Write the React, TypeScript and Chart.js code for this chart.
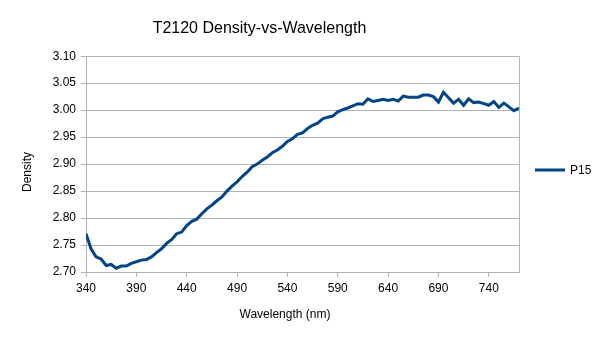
import React, { useEffect, useRef } from "react";
import { Chart, registerables } from "chart.js";

Chart.register(...registerables);

const chartTitle = "T2120 Density-vs-Wavelength";
const seriesName = "P15";
const xAxisTitle = "Wavelength (nm)";
const yAxisTitle = "Density";

const wavelengths: number[] = [
  340, 345, 350, 355, 360, 365, 370, 375, 380, 385, 390, 395, 400, 405, 410, 415,
  420, 425, 430, 435, 440, 445, 450, 455, 460, 465, 470, 475, 480, 485, 490, 495,
  500, 505, 510, 515, 520, 525, 530, 535, 540, 545, 550, 555, 560, 565, 570, 575,
  580, 585, 590, 595, 600, 605, 610, 615, 620, 625, 630, 635, 640, 645, 650, 655,
  660, 665, 670, 675, 680, 685, 690, 695, 700, 705, 710, 715, 720, 725, 730, 735,
  740, 745, 750, 755, 760, 765, 770,
];

const density: number[] = [
  2.771, 2.743, 2.728, 2.724, 2.712, 2.714, 2.707, 2.711, 2.711, 2.716, 2.719, 2.722, 2.723, 2.728, 2.736, 2.743,
  2.753, 2.760, 2.771, 2.774, 2.786, 2.794, 2.798, 2.808, 2.817, 2.824, 2.832, 2.839, 2.850, 2.859, 2.867, 2.877,
  2.885, 2.895, 2.900, 2.907, 2.913, 2.921, 2.926, 2.933, 2.942, 2.947, 2.955, 2.958, 2.966, 2.972, 2.976, 2.984,
  2.987, 2.989, 2.997, 3.001, 3.004, 3.008, 3.012, 3.011, 3.021, 3.016, 3.018, 3.020, 3.018, 3.020, 3.017, 3.026,
  3.024, 3.024, 3.024, 3.028, 3.028, 3.025, 3.015, 3.033, 3.023, 3.013, 3.020, 3.009, 3.021, 3.014, 3.015, 3.012,
  3.009, 3.016, 3.005, 3.013, 3.006, 2.999, 3.004,
];

const xTicks: number[] = [340, 390, 440, 490, 540, 590, 640, 690, 740];
const xMin = 340;
const xMax = 770;
const yMin = 2.7;
const yMax = 3.1;
const yStep = 0.05;

const LINE_COLOR = "#004586";
const GRID_COLOR = "#b3b3b3";
const FONT = "'Liberation Sans', Arial, sans-serif";

export default function App() {
  const ref = useRef<HTMLCanvasElement | null>(null);

  useEffect(() => {
    document.body.style.margin = "0";
    const canvas = ref.current;
    if (!canvas) return;

    const frameAndLegend = {
      id: "frameAndLegend",
      afterDraw(chart: any) {
        const { ctx, chartArea } = chart;
        ctx.save();
        ctx.strokeStyle = GRID_COLOR;
        ctx.lineWidth = 1;
        ctx.beginPath();
        ctx.moveTo(Math.round(chartArea.right) + 0.5, chartArea.top);
        ctx.lineTo(Math.round(chartArea.right) + 0.5, chartArea.bottom);
        ctx.stroke();
        // legend
        const ly = 170;
        ctx.strokeStyle = LINE_COLOR;
        ctx.lineWidth = 3;
        ctx.beginPath();
        ctx.moveTo(535, ly);
        ctx.lineTo(565, ly);
        ctx.stroke();
        ctx.fillStyle = "#000";
        ctx.font = `12px ${FONT}`;
        ctx.textBaseline = "middle";
        ctx.textAlign = "left";
        ctx.fillText(seriesName, 570, ly + 1);
        // axis titles
        ctx.textAlign = "center";
        ctx.fillText(xAxisTitle, 285, 315);
        ctx.translate(28, 172);
        ctx.rotate(-Math.PI / 2);
        ctx.fillText(yAxisTitle, 0, 0);
        ctx.restore();
      },
    };

    const chart = new Chart(canvas, {
      type: "line",
      data: {
        datasets: [
          {
            label: seriesName,
            data: wavelengths.map((x, i) => ({ x, y: density[i] })),
            borderColor: LINE_COLOR,
            backgroundColor: LINE_COLOR,
            borderWidth: 3,
            pointRadius: 0,
            tension: 0,
            fill: false,
          },
        ],
      },
      options: {
        responsive: false,
        animation: false,
        layout: { padding: { left: 0, right: 87, top: 0, bottom: 0 } },
        plugins: {
          legend: { display: false },
          tooltip: { enabled: false },
          title: {
            display: true,
            text: chartTitle,
            color: "#000",
            font: { family: FONT, size: 16, weight: "normal" },
            padding: { top: 19, bottom: 18 },
          },
        },
        scales: {
          x: {
            type: "linear",
            min: xMin,
            max: xMax,
            afterBuildTicks: (scale: any) => {
              scale.ticks = xTicks.map((v) => ({ value: v }));
            },
            afterFit: (scale: any) => {
              scale.height = 69;
            },
            grid: {
              drawOnChartArea: false,
              drawTicks: true,
              tickLength: 5,
              color: GRID_COLOR,
            },
            border: { color: GRID_COLOR },
            ticks: {
              color: "#000",
              font: { family: FONT, size: 12 },
              padding: 4,
              maxRotation: 0,
              autoSkip: false,
            },
          },
          y: {
            type: "linear",
            min: yMin,
            max: yMax,
            afterFit: (scale: any) => {
              scale.width = 86;
            },
            grid: {
              drawOnChartArea: true,
              drawTicks: true,
              tickLength: 5,
              color: GRID_COLOR,
            },
            border: { color: GRID_COLOR },
            ticks: {
              stepSize: yStep,
              color: "#000",
              font: { family: FONT, size: 12 },
              padding: 5,
              callback: (v: any) => Number(v).toFixed(2),
            },
          },
        },
      },
      plugins: [frameAndLegend],
    } as any);

    return () => chart.destroy();
  }, []);

  return <canvas ref={ref} width={606} height={341} style={{ display: "block" }} />;
}
